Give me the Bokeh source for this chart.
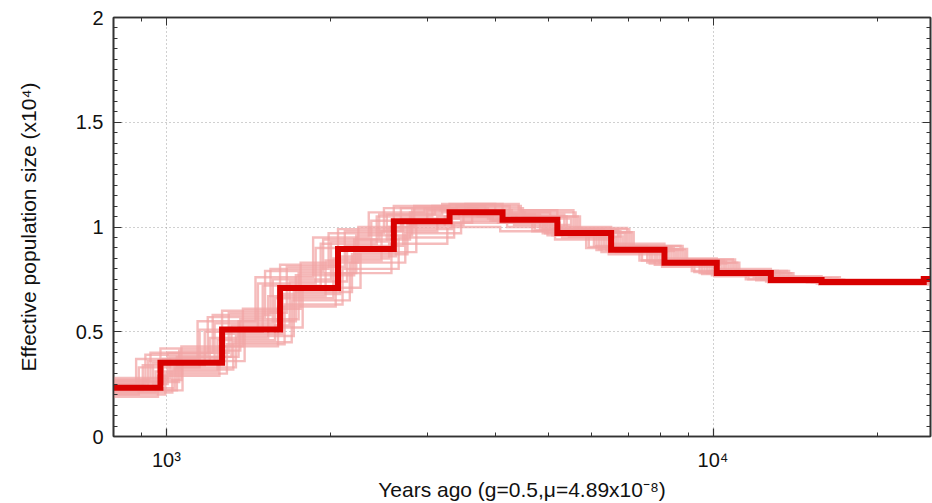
from bokeh.plotting import figure
from bokeh.models import LogAxis, LinearAxis, FixedTicker, SingleIntervalTicker, Range1d, NumeralTickFormatter
from bokeh.embed import file_html
from bokeh.resources import INLINE

# ---------------- data ----------------
x_start = 700
x_end = 30000

main_breaks = [975, 1264, 1614, 2060, 2606, 3296, 4120, 5190, 6510, 8150, 10160, 12760, 15800, 24300]
main_values = [0.233, 0.352, 0.511, 0.709, 0.895, 1.028, 1.070, 1.035, 0.971, 0.892, 0.829, 0.781, 0.747, 0.737, 0.752]

boot_breaks = [
    [880, 1140, 1455, 1855, 2345, 2965, 3710, 4670, 5860, 7335, 9145, 11480, 14220],
    [905, 1175, 1500, 1915, 2425, 3065, 3830, 4825, 6055, 7580, 9450, 11870, 14690],
    [935, 1215, 1550, 1980, 2500, 3165, 3955, 4980, 6250, 7825, 9755, 12250, 15170],
    [955, 1240, 1580, 2020, 2555, 3230, 4040, 5085, 6380, 7985, 9955, 12505, 15485],
    [975, 1264, 1614, 2060, 2606, 3296, 4120, 5190, 6510, 8150, 10160, 12760, 15800],
    [995, 1290, 1645, 2100, 2660, 3360, 4200, 5295, 6640, 8315, 10365, 13015, 16115],
    [1015, 1315, 1680, 2140, 2710, 3430, 4285, 5400, 6770, 8475, 10565, 13270, 16430],
    [1035, 1340, 1710, 2185, 2760, 3495, 4365, 5500, 6900, 8640, 10770, 13525, 16750],
    [1055, 1365, 1745, 2225, 2815, 3560, 4450, 5605, 7030, 8800, 10975, 13780, 17065],
    [1070, 1390, 1775, 2265, 2865, 3625, 4530, 5710, 7160, 8965, 11175, 14035, 17380],
    [915, 1190, 1515, 1935, 2450, 3100, 3875, 4880, 6120, 7660, 9550, 11995, 14850],
    [1025, 1325, 1695, 2165, 2735, 3460, 4325, 5450, 6835, 8560, 10670, 13400, 16590],
    [945, 1225, 1565, 2000, 2530, 3195, 3995, 5035, 6315, 7905, 9855, 12375, 15325],
    [985, 1275, 1630, 2080, 2630, 3330, 4160, 5240, 6575, 8230, 10260, 12890, 15960],
    [890, 1150, 1470, 1875, 2370, 3000, 3750, 4720, 5925, 7415, 9245, 11610, 14380],
    [1065, 1380, 1760, 2245, 2840, 3595, 4490, 5655, 7095, 8885, 11075, 13910, 17220],
    [965, 1250, 1600, 2040, 2580, 3265, 4080, 5140, 6445, 8070, 10060, 12630, 15640],
    [1005, 1300, 1660, 2120, 2685, 3395, 4245, 5345, 6705, 8395, 10465, 13145, 16275],
    [925, 1200, 1535, 1955, 2475, 3130, 3915, 4930, 6185, 7740, 9650, 12120, 15010],
    [1045, 1355, 1725, 2205, 2790, 3525, 4410, 5555, 6965, 8720, 10870, 13655, 16905],
]
boot_values = [
    [0.25, 0.37, 0.55, 0.76, 0.95, 1.07, 1.09, 1.05, 0.98, 0.90, 0.84, 0.79, 0.75, 0.74],
    [0.22, 0.34, 0.50, 0.72, 0.92, 1.05, 1.10, 1.06, 0.99, 0.91, 0.83, 0.78, 0.76, 0.745],
    [0.27, 0.40, 0.58, 0.80, 0.97, 1.09, 1.08, 1.03, 0.96, 0.88, 0.82, 0.78, 0.75, 0.735],
    [0.21, 0.31, 0.46, 0.66, 0.85, 1.00, 1.05, 1.02, 0.96, 0.89, 0.83, 0.77, 0.74, 0.73],
    [0.24, 0.42, 0.60, 0.82, 0.99, 1.10, 1.11, 1.08, 1.00, 0.92, 0.85, 0.80, 0.765, 0.75],
    [0.20, 0.30, 0.44, 0.63, 0.80, 0.95, 1.02, 1.00, 0.95, 0.88, 0.82, 0.775, 0.745, 0.735],
    [0.28, 0.38, 0.53, 0.74, 0.91, 1.04, 1.08, 1.05, 0.98, 0.90, 0.835, 0.785, 0.755, 0.74],
    [0.23, 0.33, 0.48, 0.69, 0.87, 1.01, 1.06, 1.04, 0.97, 0.895, 0.83, 0.78, 0.75, 0.74],
    [0.26, 0.41, 0.56, 0.78, 0.96, 1.08, 1.10, 1.07, 0.99, 0.91, 0.845, 0.79, 0.76, 0.745],
    [0.22, 0.36, 0.52, 0.71, 0.88, 1.02, 1.07, 1.05, 0.975, 0.895, 0.83, 0.78, 0.75, 0.74],
    [0.25, 0.39, 0.57, 0.79, 0.94, 1.06, 1.09, 1.04, 0.97, 0.89, 0.825, 0.775, 0.745, 0.735],
    [0.21, 0.32, 0.45, 0.65, 0.83, 0.97, 1.03, 1.01, 0.955, 0.885, 0.825, 0.78, 0.75, 0.74],
    [0.23, 0.35, 0.54, 0.75, 0.93, 1.06, 1.11, 1.07, 0.99, 0.905, 0.84, 0.79, 0.755, 0.745],
    [0.26, 0.37, 0.49, 0.68, 0.86, 0.99, 1.04, 1.02, 0.965, 0.89, 0.835, 0.785, 0.755, 0.745],
    [0.20, 0.33, 0.51, 0.73, 0.90, 1.03, 1.08, 1.06, 0.985, 0.905, 0.84, 0.785, 0.75, 0.74],
    [0.27, 0.43, 0.61, 0.83, 1.00, 1.10, 1.09, 1.05, 0.975, 0.89, 0.83, 0.78, 0.75, 0.74],
    [0.19, 0.29, 0.43, 0.62, 0.78, 0.92, 1.00, 0.98, 0.94, 0.87, 0.81, 0.765, 0.735, 0.725],
    [0.25, 0.40, 0.59, 0.81, 0.98, 1.09, 1.10, 1.06, 0.985, 0.905, 0.84, 0.79, 0.755, 0.745],
    [0.24, 0.36, 0.47, 0.67, 0.84, 0.98, 1.05, 1.03, 0.97, 0.895, 0.835, 0.785, 0.755, 0.745],
    [0.22, 0.38, 0.55, 0.77, 0.94, 1.07, 1.11, 1.08, 0.995, 0.91, 0.845, 0.79, 0.755, 0.745],
]

x_major_ticks = [1000, 10000]
x_minor_ticks = [900, 2000, 3000, 4000, 5000, 6000, 7000, 8000, 9000, 20000]
x_tick_labels = {1000: "10³", 10000: "10⁴"}
x_min, x_max = 800, 25000
y_min, y_max = 0, 2

x_title = "Years ago (g=0.5,μ=4.89x10⁻⁸)"
y_title = "Effective population size (x10⁴)"

# ---------------- figure ----------------
FONT = "Liberation Sans"
FRAME = "#333333"

p = figure(width=932, height=503, x_axis_type="log",
           x_range=Range1d(x_min, x_max), y_range=Range1d(y_min, y_max),
           output_backend="svg", toolbar_location=None,
           min_border_left=113, min_border_right=2, min_border_top=17, min_border_bottom=65)
p.outline_line_color = FRAME
p.outline_line_width = 1.6
p.background_fill_color = "white"
p.border_fill_color = "white"

xt = FixedTicker(ticks=x_major_ticks, minor_ticks=x_minor_ticks)
yt = SingleIntervalTicker(interval=0.5, num_minor_ticks=10)

xa = p.xaxis[0]
xa.ticker = xt
xa.major_label_overrides = x_tick_labels
xa.axis_label = x_title
ya = p.yaxis[0]
ya.ticker = yt
ya.formatter = NumeralTickFormatter(format="0.[0]")
ya.axis_label = y_title

for ax in (xa, ya):
    ax.axis_line_color = FRAME
    ax.axis_line_width = 1.6
    ax.major_tick_in = 8
    ax.major_tick_out = 0
    ax.minor_tick_in = 4
    ax.minor_tick_out = 0
    ax.major_tick_line_color = FRAME
    ax.minor_tick_line_color = FRAME
    ax.major_tick_line_width = 1.2
    ax.minor_tick_line_width = 1
    ax.major_label_text_font = FONT
    ax.major_label_text_font_size = "20px"
    ax.major_label_text_color = "#111111"
    ax.axis_label_text_font = FONT
    ax.axis_label_text_font_size = "21px"
    ax.axis_label_text_font_style = "normal"
    ax.axis_label_text_color = "#111111"
xa.major_label_standoff = 12
xa.axis_label_standoff = 4
ya.major_label_standoff = 10
ya.axis_label_standoff = 33

top = LogAxis(ticker=xt)
right = LinearAxis(ticker=yt)
for ax in (top, right):
    ax.axis_line_color = FRAME
    ax.axis_line_width = 1.6
    ax.major_tick_in = 8
    ax.major_tick_out = 0
    ax.minor_tick_in = 4
    ax.minor_tick_out = 0
    ax.major_tick_line_color = FRAME
    ax.minor_tick_line_color = FRAME
    ax.major_label_text_font_size = "1px"
    ax.major_label_text_color = None
    ax.major_label_standoff = 0
p.add_layout(top, "above")
p.add_layout(right, "right")

for g in (p.xgrid[0], p.ygrid[0]):
    g.grid_line_color = "#a0a0a0"
    g.grid_line_dash = "1 3"
    g.grid_line_width = 1
p.xgrid[0].ticker = xt
p.ygrid[0].ticker = yt

# bootstrap curves
for br, vals in zip(boot_breaks, boot_values):
    xs = [x_start] + br + [x_end]
    ys = vals + [vals[-1]]
    p.step(xs, ys, mode="after", line_color="#f2a6a6", line_alpha=0.75, line_width=2.4,
           line_join="miter")

# main curve
xs = [x_start] + main_breaks + [x_end]
ys = main_values + [main_values[-1]]
p.step(xs, ys, mode="after", line_color="#d80000", line_width=6, line_join="miter")

open("out.html", "w").write(file_html(p, INLINE))
